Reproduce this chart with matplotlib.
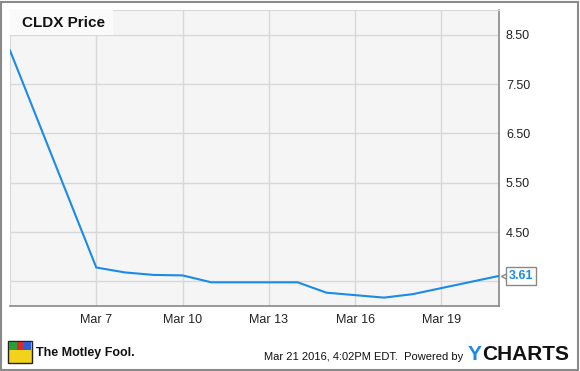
import matplotlib.pyplot as plt
import matplotlib.dates as mdates
from matplotlib.patches import Rectangle
import datetime as dt

plt.rcParams['font.family'] = ['Liberation Sans', 'DejaVu Sans']

dates = ["2016-03-04", "2016-03-07", "2016-03-08", "2016-03-09", "2016-03-10",
         "2016-03-11", "2016-03-14", "2016-03-15", "2016-03-16", "2016-03-17",
         "2016-03-18", "2016-03-21"]
prices = [8.18, 3.78, 3.68, 3.63, 3.62, 3.48, 3.48, 3.27, 3.22, 3.17, 3.24, 3.61]
yticks = [4.50, 5.50, 6.50, 7.50, 8.50]
xtick_dates = ["2016-03-07", "2016-03-10", "2016-03-13", "2016-03-16", "2016-03-19"]

x = [dt.datetime.strptime(d, "%Y-%m-%d") for d in dates]
xt = [dt.datetime.strptime(d, "%Y-%m-%d") for d in xtick_dates]

W, H = 580, 371
fig = plt.figure(figsize=(5.8, 3.71), dpi=100)
fig.patch.set_facecolor("white")

# outer frame
fig.add_artist(Rectangle((1 / W, 1 / H), 577 / W, 368 / H, transform=fig.transFigure,
                         fill=False, edgecolor="#8a8a8a", linewidth=1.5))

ax = fig.add_axes([10 / W, (H - 306) / H, 489 / W, 296 / H])
ax.set_facecolor("#f5f5f5")
ax.plot(x, prices, color="#1a8be8", linewidth=1.5, zorder=3)

ax.set_xlim(x[0], x[-1])
ax.set_ylim(3.0, 9.0)
ax.set_yticks(yticks + [3.5])
ax.set_yticklabels([f"{v:.2f}" for v in yticks] + [""])
ax.yaxis.tick_right()
ax.set_xticks(xt)
ax.xaxis.set_major_formatter(mdates.DateFormatter("Mar %-d"))
ax.tick_params(length=0, labelsize=9, colors="#222222", pad=6)
ax.tick_params(axis="y", pad=5)
ax.grid(True, color="#d8d8d8", linewidth=1)
ax.set_axisbelow(True)
for s in ["left", "top"]:
    ax.spines[s].set_color("#d8d8d8")
for s in ["right", "bottom"]:
    ax.spines[s].set_color("#888888")
    ax.spines[s].set_linewidth(1.2)

# title box
ax.add_patch(Rectangle((0, 1 - 25 / 296), 103 / 489, 25 / 296, transform=ax.transAxes,
                       facecolor="#fafafa", edgecolor="none", zorder=4))
ax.text(12 / 489, 1 - 13 / 296, "CLDX Price", transform=ax.transAxes, fontsize=11,
        fontweight="bold", va="center", ha="left", color="#111111", zorder=5)

# last value label with a small pointer
ax.plot([x[-1]], [prices[-1]], marker="<", markersize=6, markerfacecolor="white",
        markeredgecolor="#888888", markeredgewidth=1, clip_on=False, zorder=5,
        transform=ax.transData + __import__("matplotlib").transforms.ScaledTranslation(
            4 / 72, 0, fig.dpi_scale_trans))
ax.annotate(f"{prices[-1]:.2f}", xy=(x[-1], prices[-1]), xytext=(7, 0),
            textcoords="offset points", va="center", ha="left", fontsize=9,
            fontweight="bold", color="#1a8be8", annotation_clip=False, zorder=6,
            bbox=dict(boxstyle="square,pad=0.25", facecolor="white", edgecolor="#888888"))

# footer
fig.text(463 / W, 1 - 357 / H, "Mar 21 2016, 4:02PM EDT.  Powered by", fontsize=8,
         va="center", ha="right", color="#111111")
fig.text(468 / W, 1 - 355 / H, "Y", fontsize=15, fontweight="bold", color="#1a8be8",
         va="center", ha="left")
fig.text(482 / W, 1 - 355 / H, "CHARTS", fontsize=15, fontweight="bold", color="#111111",
         va="center", ha="left")

# motley fool logo
fig.add_artist(Rectangle((8 / W, 1 - 363 / H), 24 / W, 22 / H, transform=fig.transFigure,
                         facecolor="#f2d21a", edgecolor="#222222", linewidth=1))
fig.add_artist(Rectangle((9 / W, 1 - 350 / H), 8 / W, 8 / H, transform=fig.transFigure,
                         facecolor="#2a9d3a", edgecolor="none"))
fig.add_artist(Rectangle((17 / W, 1 - 350 / H), 7 / W, 8 / H, transform=fig.transFigure,
                         facecolor="#d82a2a", edgecolor="none"))
fig.add_artist(Rectangle((24 / W, 1 - 350 / H), 7 / W, 8 / H, transform=fig.transFigure,
                         facecolor="#2a5fd8", edgecolor="none"))
fig.text(36 / W, 1 - 353 / H, "The Motley Fool.", fontsize=9, fontweight="bold",
         color="#111111", va="center", ha="left")

fig.savefig("out.png", dpi=100)
